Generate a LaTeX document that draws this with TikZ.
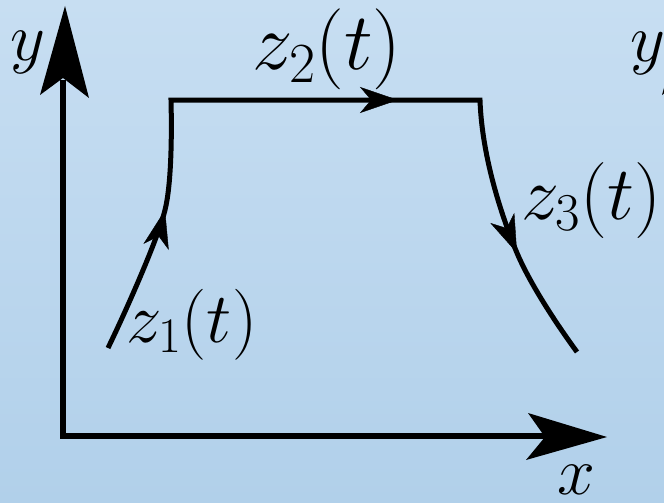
\documentclass[tikz,border=0pt]{standalone}
\usepackage{fix-cm}
\usetikzlibrary{arrows.meta,decorations.markings}
\definecolor{bgtop}{RGB}{199,222,242}
\definecolor{bgbot}{RGB}{177,208,234}
\begin{document}
\begin{tikzpicture}[x=1pt,y=-1pt,
  axisline/.style={line width=6pt, line join=miter},
  curveline/.style={line width=5pt, line join=miter},
  lbl/.style={inner sep=0pt, anchor=base west, font=\fontsize{68}{80}\selectfont},
  biglbl/.style={inner sep=0pt, anchor=base west, font=\fontsize{81}{96}\selectfont},
  midlbl/.style={inner sep=0pt, anchor=base west, font=\fontsize{76}{90}\selectfont},
  smalllbl/.style={inner sep=0pt, anchor=base west, font=\fontsize{71}{84}\selectfont},
  midtip/.style={decoration={markings, mark=at position 1 with {\arrow{Stealth[length=38pt,width=26pt,inset=11pt]}}}, decorate}]
\useasboundingbox (0,0) rectangle (664,503);
\shade[top color=bgtop, bottom color=bgbot] (0,0) rectangle (664,503);
\begin{scope}
\clip (0,0) rectangle (664,503);
% axes
\coordinate (O) at (63,436);
\coordinate (ytop) at (63,80);
\coordinate (xend) at (550,436);
\draw[axisline] (ytop) -- (O) -- (xend);
\fill (65,6) -- (89,98) -- (63,78) -- (40,95) -- cycle;
\fill (607,437) -- (526,460) -- (545,437) -- (528,413) -- cycle;
% cut-off second figure at right edge
\fill (687,6) -- (711,98) -- (685,78) -- (662,95) -- cycle;
\node[lbl] (ly2) at (630,62) {$y$};
\end{scope}
% contour
\coordinate (s) at (108,348);
\coordinate (t1) at (165,210);
\coordinate (c1) at (171,100);
\coordinate (t2) at (398,100);
\coordinate (c2) at (480,100);
\coordinate (t3) at (517,253);
\coordinate (e) at (577,352);
\draw[curveline] (s) .. controls (125,313) and (158,239) .. (t1)
  .. controls (171,186) and (172,140) .. (c1) -- (t2) -- (c2)
  .. controls (482,160) and (504,222) .. (t3)
  .. controls (528,279) and (550,315) .. (e);
\path[midtip] (158,239) -- (t1);
\path[midtip] (360,100) -- (t2);
\path[midtip] (504,222) -- (t3);
% labels
\node[lbl] (ly) at (10,61) {$y$};
\node[lbl] (lx) at (557,494) {$x$};
\node[smalllbl] (lz1) at (126,342) {$z_1(t)$};
\node[biglbl] (lz2) at (252,70) {$z_2(t)$};
\node[midlbl] (lz3) at (521,219) {$z_3(t)$};
\end{tikzpicture}
\end{document}
